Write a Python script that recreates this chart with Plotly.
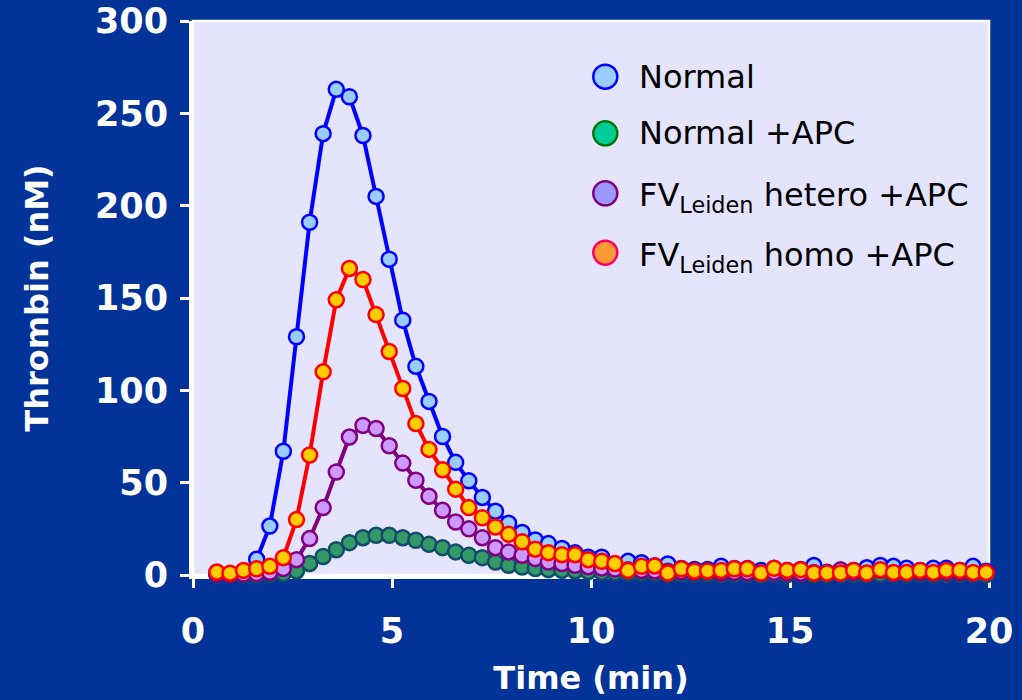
import plotly.graph_objects as go

# ---------------- data ----------------
TIME_MIN = [0.6, 0.93, 1.27, 1.6, 1.93, 2.27, 2.6, 2.93, 3.27, 3.6,
            3.93, 4.27, 4.6, 4.93, 5.27, 5.6, 5.93, 6.27, 6.6, 6.93,
            7.27, 7.6, 7.93, 8.27, 8.6, 8.93, 9.27, 9.6, 9.93, 10.27,
            10.6, 10.93, 11.27, 11.6, 11.93, 12.27, 12.6, 12.93, 13.27, 13.6,
            13.93, 14.27, 14.6, 14.93, 15.27, 15.6, 15.93, 16.27, 16.6, 16.93,
            17.27, 17.6, 17.93, 18.27, 18.6, 18.93, 19.27, 19.6, 19.93]

NORMAL = [0.5, 0.5, 1.5, 8.5, 26.5, 67, 129, 191, 239, 263,
          259, 238, 205, 171, 138, 113, 94, 75, 61, 51,
          42, 34.5, 28, 23, 19, 17, 14.4, 12, 9.6, 9.6,
          6, 7.4, 6.6, 5, 6, 3.5, 3, 3, 4.7, 3.5,
          3.5, 2.5, 3.5, 2.5, 3, 5.2, 1.5, 1.5, 2.5, 3.9,
          5.2, 4.7, 3.6, 2.5, 3.6, 3.6, 2.5, 4.7, 2]

NORMAL_APC = [0, 0, 0, 0, 0.3, 0.8, 2.2, 6.2, 10, 13.7,
              17.5, 20.2, 21.5, 21.5, 20.2, 18.8, 16.6, 14.8, 12.5, 10.7,
              9.4, 7, 5.3, 4.3, 3.5, 2.9, 2.5, 2.2, 1.8, 1.5,
              1.2, 1, 1, 0.8, 0.5, 0.6, 0.4, 0.5, 0.3, 0.5,
              0.4, 0.2, 0.5, 0.3, 0.4, 0.2, 0.3, 0.5, 0.3, 0.2,
              0.4, 0.3, 0.2, 0.4, 0.3, 0.2, 0.3, 0.2, 0.3]

FVL_HETERO_APC = [0.5, 0.3, 0.5, 0.8, 1.5, 3.5, 8.3, 19.7, 36.5, 55.8,
                  74.7, 81, 79.3, 70, 60.6, 51.3, 42.6, 35, 28.7, 25,
                  20.2, 14.8, 12.5, 10.7, 8.9, 7, 6.2, 5.3, 4.5, 3.8,
                  3.2, 2.8, 2.5, 2.2, 2, 1.8, 1.5, 1.8, 1.2, 1.5,
                  1.3, 1, 1.4, 1.2, 1, 1.3, 1, 2.8, 1.5, 1,
                  2.5, 1, 1.2, 1.5, 1, 1.4, 1.2, 1, 1.5]

FVL_HOMO_APC = [1.6, 1, 2.5, 3.4, 4.7, 9.4, 30, 65, 110, 149,
                166, 160, 141, 121, 101, 82, 68, 57, 46.5, 36.5,
                31, 26, 22, 18, 14, 12.1, 11, 11, 8.3, 7.4,
                6.2, 2.5, 4.7, 4.9, 1.1, 3.4, 2.2, 2.2, 2.5, 3.4,
                3.4, 1.1, 3.6, 2.5, 2.9, 1.1, 1.1, 1.1, 2.5, 1.1,
                2.9, 1.4, 1.4, 2.5, 1.4, 2.5, 2.5, 1.4, 1.4]

SERIES_NAMES = ["Normal", "Normal +APC",
                "FV<sub>Leiden</sub> hetero +APC", "FV<sub>Leiden</sub> homo +APC"]
SERIES_VALUES = [NORMAL, NORMAL_APC, FVL_HETERO_APC, FVL_HOMO_APC]

X_TICKS = [0, 5, 10, 15, 20]
Y_TICKS = [0, 50, 100, 150, 200, 250, 300]

# ---------------- styles ----------------
LINE_COLORS = ["#0000FF", "#0B5A5A", "#800080", "#FF0000"]
MARKER_FILLS = ["#99CCFF", "#339966", "#CC99FF", "#FFCC00"]
MARKER_EDGES = ["#0000FF", "#114D6B", "#800080", "#FF0000"]
LEGEND_FILLS = ["#99CCFF", "#00CC99", "#9999FF", "#FF9933"]
LEGEND_EDGES = ["#0000FF", "#007700", "#800080", "#FF0066"]

BG = "#023398"
PLOT_BG = "#E4E4FC"
FONT = "DejaVu Sans, Verdana, sans-serif"

W, H = 1022, 700
ML, MR, MT, MB = 193, 33, 21, 125
PW, PH = W - ML - MR, H - MT - MB

fig = go.Figure()
for name, ys, lc, mf, me in zip(SERIES_NAMES, SERIES_VALUES, LINE_COLORS,
                                MARKER_FILLS, MARKER_EDGES):
    fig.add_trace(go.Scatter(
        x=TIME_MIN, y=ys, mode="lines+markers", name=name,
        line=dict(color=lc, width=4),
        marker=dict(size=15, color=mf, line=dict(color=me, width=2.5)),
        cliponaxis=False, showlegend=False,
    ))

# custom legend (large swatches like the original slide)
LEG_ROW_PX = [76.7, 133.3, 193.3, 252.7]
LEG_SUB_SHIFT = [0, 0, 4, 4]
LEG_SWATCH_PX = 605.3
LEG_TEXT_PX = 637
shapes = []
annotations = []
for name, fill, edge, ypx, shift in zip(SERIES_NAMES, LEGEND_FILLS, LEGEND_EDGES,
                                        LEG_ROW_PX, LEG_SUB_SHIFT):
    yp = (H - MB - ypx) / PH
    xp = (LEG_SWATCH_PX - ML) / PW
    shapes.append(dict(type="circle", xref="paper", yref="paper",
                       xsizemode="pixel", ysizemode="pixel",
                       xanchor=xp, yanchor=yp, x0=-12, x1=12, y0=-12, y1=12,
                       fillcolor=fill, line=dict(color=edge, width=2.5)))
    annotations.append(dict(xref="paper", yref="paper",
                            x=(LEG_TEXT_PX - ML) / PW,
                            y=(H - MB - ypx - shift) / PH,
                            xanchor="left", yanchor="middle", showarrow=False,
                            text=name, font=dict(family=FONT, size=32, color="#000000")))

# thin white frame around the plotting area
shapes.append(dict(type="rect", xref="paper", yref="paper", x0=0, x1=1, y0=0, y1=1,
                   line=dict(color="white", width=2.5), layer="below"))

axis_common = dict(
    showline=True, linecolor="white", linewidth=4,
    ticks="outside", ticklen=9, tickwidth=3, tickcolor="white",
    showgrid=False, zeroline=False, layer="below traces",
    tickfont=dict(family=FONT, size=35, color="white", weight="bold"),
)

fig.update_layout(
    width=W, height=H,
    margin=dict(l=ML, r=MR, t=MT, b=MB, autoexpand=False),
    paper_bgcolor=BG, plot_bgcolor=PLOT_BG,
    shapes=shapes, annotations=annotations,
    xaxis=dict(range=[0, 20], tickvals=X_TICKS, ticklabelstandoff=13,
               title=dict(text="Time (min)", standoff=18,
                          font=dict(family=FONT, size=32, color="white", weight="bold")),
               **axis_common),
    yaxis=dict(range=[0, 300], tickvals=Y_TICKS, ticklabelstandoff=5,
               title=dict(text="Thrombin (nM)", standoff=38,
                          font=dict(family=FONT, size=32, color="white", weight="bold")),
               **axis_common),
    showlegend=False,
)

fig.write_html("out.html", config={"displayModeBar": False},
               post_script="document.body.style.margin='0';document.body.style.overflow='hidden';")
